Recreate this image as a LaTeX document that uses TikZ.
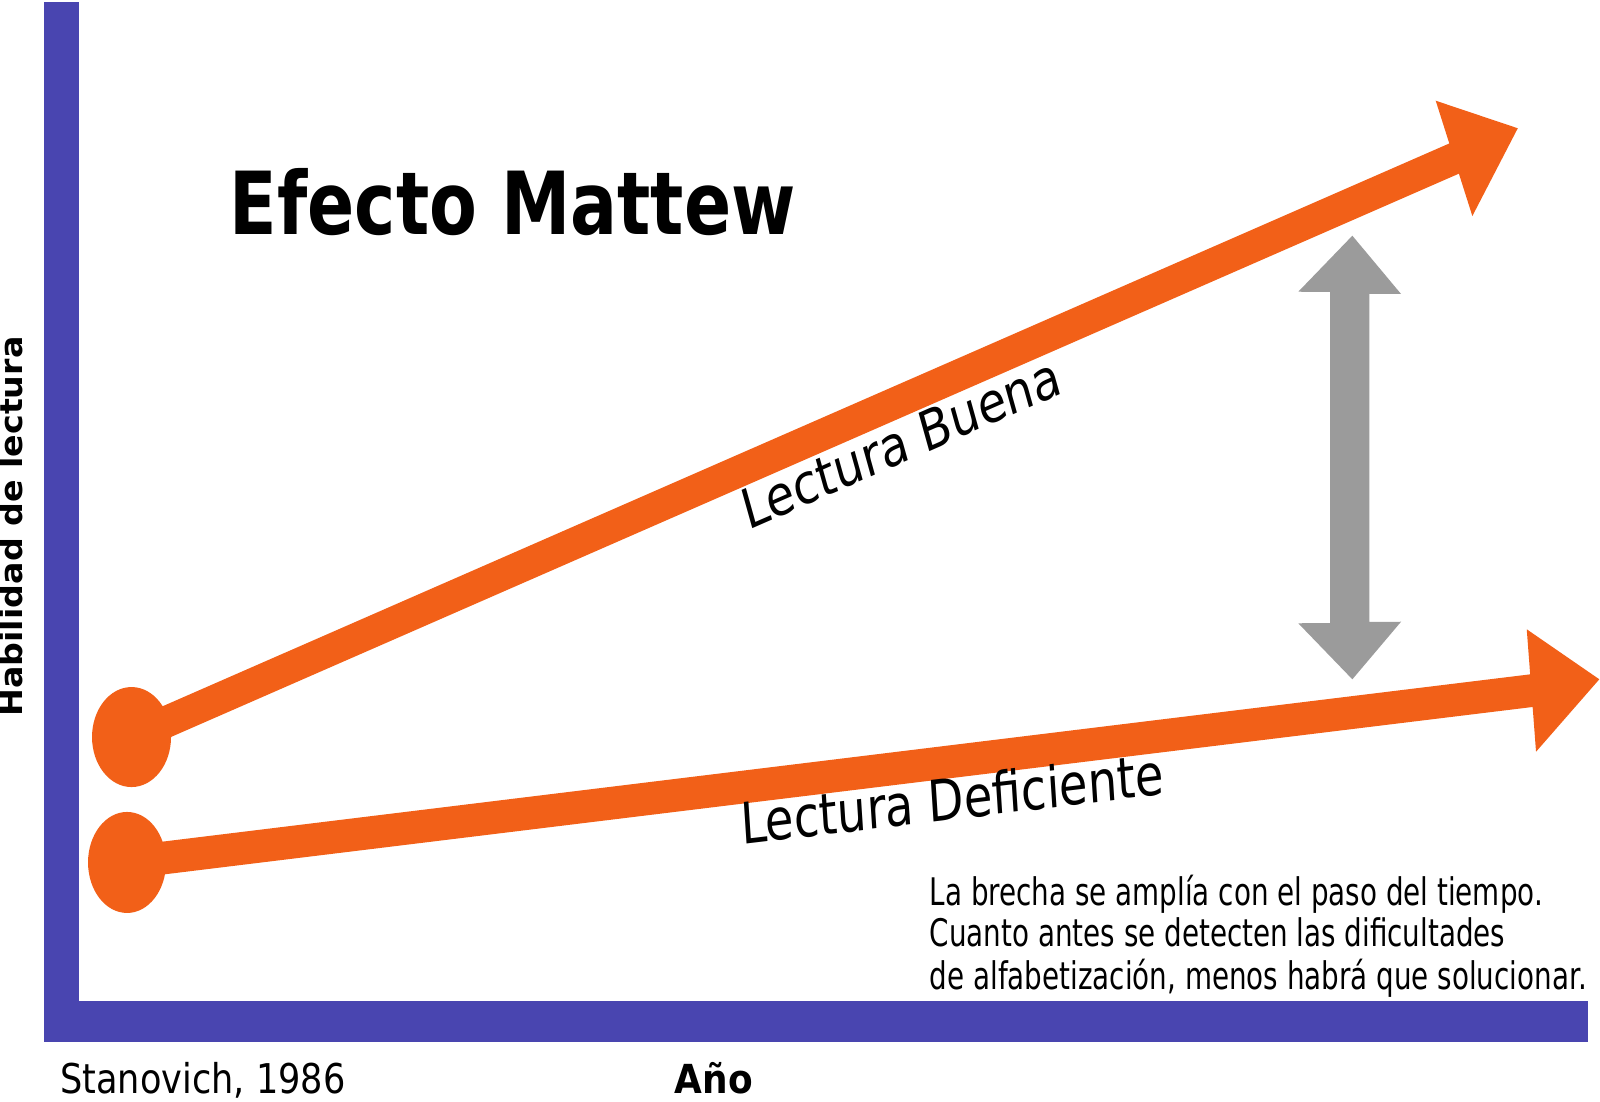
\documentclass[tikz,border=0pt]{standalone}
\usepackage{fontspec}
\setmainfont{DejaVu Sans}
\usepackage{graphicx}
\usetikzlibrary{shapes.geometric}
\definecolor{axisblue}{RGB}{73,69,176}
\definecolor{arroworange}{RGB}{242,96,24}
\definecolor{gapgray}{RGB}{155,155,155}
\tikzset{
  dot/.style={ellipse, fill=arroworange, inner sep=0pt},
  shaft/.style={draw=arroworange, line cap=butt},
  txt/.style={inner sep=0pt, text=black},
}
\begin{document}
\begin{tikzpicture}[x=1.0204pt,y=-1.0204pt]
\fill[white] (0,0) rectangle (1568,1079);
\useasboundingbox (0,0) rectangle (1568,1079);
% axes
\fill[axisblue] (43,2) rectangle (77,1021);
\fill[axisblue] (43,981) rectangle (1556,1021);
% start dots
\node[dot, minimum width=79pt, minimum height=100pt] (good) at (128.9,722.3) {};
\node[dot, minimum width=78pt, minimum height=101pt] (poor) at (124.5,845.2) {};
\coordinate (goodend) at (1430,153.2);
\coordinate (poorend) at (1506,676.2);
\draw[shaft, line width=31.5pt] (good.center) -- (goodend);
\draw[shaft, line width=32.7pt] (poor.center) -- (poorend);
\fill[arroworange] (1407,98.7) -- (1487.4,125.7) -- (1442.9,211.7) -- cycle;
\fill[arroworange] (1496.2,616.7) -- (1567.3,665.7) -- (1505.3,736.7) -- cycle;
% gap arrow
\fill[gapgray] (1325.3,231) -- (1373,288.1) -- (1341.9,288) -- (1341.9,609.5) -- (1373,609.3) -- (1325.3,665.7) -- (1272.3,610.8) -- (1303.4,610.6) -- (1303.4,286) -- (1272.3,285.9) -- cycle;
% texts
\node[txt, anchor=base west] (title) at (225,230) {\resizebox{566pt}{\height}{\fontsize{87}{90}\selectfont\bfseries Efecto Mattew}};
\node[txt, anchor=base west, rotate=23.6, xslant=0.14] (goodlbl) at (733,520) {\resizebox{345pt}{\height}{\fontsize{54}{60}\selectfont Lectura Buena}};
\node[txt, anchor=base west, rotate=6.8, xslant=0.054] (poorlbl) at (727,828) {\resizebox{426pt}{\height}{\fontsize{57}{60}\selectfont Lectura Deficiente}};
\node[txt, anchor=base west] (note) at (911,887) {\resizebox{657pt}{\height}{\fontsize{38}{41.8}\selectfont\begin{tabular}[t]{@{}l@{}}La brecha se amplía con el paso del tiempo.\\ Cuanto antes se detecten las dificultades\\ de alfabetización, menos habrá que solucionar.\end{tabular}}};
\node[txt, anchor=base west] (src) at (59,1072) {\resizebox{285pt}{\height}{\fontsize{41}{44}\selectfont Stanovich, 1986}};
\node[txt, anchor=base west] (xlab) at (661,1072) {\resizebox{78pt}{\height}{\fontsize{40}{44}\selectfont\bfseries Año}};
\node[txt, anchor=base, rotate=90] (ylab) at (22,516) {\resizebox{380pt}{\height}{\fontsize{31}{34}\selectfont\bfseries Habilidad de lectura}};
\end{tikzpicture}
\end{document}
